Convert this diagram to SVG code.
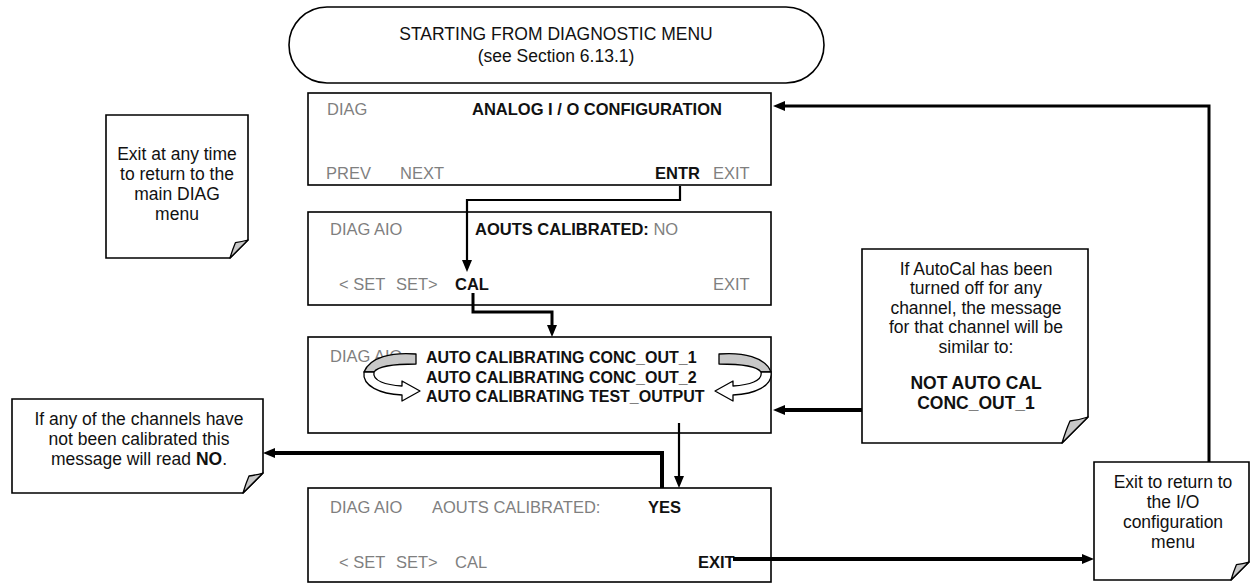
<svg xmlns="http://www.w3.org/2000/svg" width="1251" height="583" viewBox="0 0 1251 583">
<defs>
<style>
text{font-family:"Liberation Sans",Arial,sans-serif;font-size:16.5px;fill:#111}
.n text{font-size:17.5px}
.g{fill:#7f7f7f}
.b{font-weight:bold}
.a{font-size:16px}
.box{fill:#fff;stroke:#000;stroke-width:1.6}
.note{fill:#fff;stroke:#000;stroke-width:1.6;stroke-linejoin:miter}
.fold{fill:#c8c8c8;stroke:#000;stroke-width:1.3;stroke-linejoin:round}
.c{fill:none;stroke:#000;stroke-width:2.2}
.ct{fill:none;stroke:#000;stroke-width:4}
.m{text-anchor:middle}
.ca{stroke:#000;stroke-width:1.3;stroke-linejoin:round}
</style>
<marker id="ah" viewBox="0 0 12 10" refX="0" refY="5" markerWidth="12" markerHeight="10" markerUnits="userSpaceOnUse" orient="auto"><path d="M0,0 L12,5 L0,10 Z" fill="#000"/></marker>
<g id="curl">
<path class="ca" fill="#c8c8c8" d="M416,354 C392,352 370,357 364,372 L374,372 C378,366 396,364 416,364 Z"/>
<path class="ca" fill="#fff" d="M364,372 C362,386 380,394 402,395 L402,401 L420,391 L402,381 L402,386 C386,385 372,381 374,372 Z"/>
</g>
</defs>
<rect width="1251" height="583" fill="#fff"/>

<g id="start" class="n">
<rect x="289" y="7" width="535" height="76" rx="38" ry="38" class="box"/>
<text class="m" x="556" y="40">STARTING FROM DIAGNOSTIC MENU</text>
<text class="m" x="556" y="62">(see Section 6.13.1)</text>
</g>

<g id="box1">
<rect x="308" y="93" width="463" height="92" class="box"/>
<text class="g" x="327" y="115">DIAG</text>
<text class="b" x="472" y="115">ANALOG I / O CONFIGURATION</text>
<text class="g" x="326" y="179">PREV</text>
<text class="g" x="400" y="179">NEXT</text>
<text class="b" x="655" y="179">ENTR</text>
<text class="g" x="713" y="179">EXIT</text>
</g>

<g id="box2">
<rect x="308" y="212" width="463" height="93" class="box"/>
<text class="g" x="330" y="235">DIAG AIO</text>
<text class="b" x="475" y="235">AOUTS CALIBRATED:<tspan class="g" font-weight="normal"> NO</tspan></text>
<text class="g" x="339" y="290">&lt; SET</text>
<text class="g" x="396" y="290">SET&gt;</text>
<text class="b" x="455" y="290">CAL</text>
<text class="g" x="713" y="290">EXIT</text>
</g>

<g id="box3">
<rect x="308" y="337" width="463" height="96" class="box"/>
<text class="g" x="330" y="362">DIAG AIO</text>
<text class="b a" x="426" y="363">AUTO CALIBRATING CONC_OUT_1</text>
<text class="b a" x="426" y="383">AUTO CALIBRATING CONC_OUT_2</text>
<text class="b a" x="426" y="402">AUTO CALIBRATING TEST_OUTPUT</text>
<use href="#curl"/>
<use href="#curl" transform="translate(1135,0) scale(-1,1)"/>
</g>

<g id="box4">
<rect x="308" y="488" width="463" height="94" class="box"/>
<text class="g" x="330" y="513">DIAG AIO</text>
<text class="g" x="432" y="513">AOUTS CALIBRATED:</text>
<text class="b" x="648" y="513">YES</text>
<text class="g" x="339" y="568">&lt; SET</text>
<text class="g" x="396" y="568">SET&gt;</text>
<text class="g" x="455" y="568">CAL</text>
<text class="b" x="698" y="568">EXIT</text>
</g>

<g id="note1" class="n">
<path class="note" d="M106,115 H248 V240 L230,258 H106 Z"/>
<path class="fold" d="M230,258 Q232.7,249 235.4,242.7 Q241.7,241.8 248,240 Z"/>
<text class="m" x="177" y="160">Exit at any time</text>
<text class="m" x="177" y="180">to return to the</text>
<text class="m" x="177" y="200">main DIAG</text>
<text class="m" x="177" y="220">menu</text>
</g>

<g id="note2" class="n">
<path class="note" d="M12,399 H263 V473 L243,493 H12 Z"/>
<path class="fold" d="M243,493 Q246,483 249,476 Q256,475 263,473 Z"/>
<text class="m" x="139" y="425">If any of the channels have</text>
<text class="m" x="139" y="445">not been calibrated this</text>
<text class="m" x="139" y="465">message will read <tspan class="b">NO</tspan>.</text>
</g>

<g id="note3" class="n">
<path class="note" d="M862,249 H1088 V417 L1062,443 H862 Z"/>
<path class="fold" d="M1062,443 Q1066,430 1070,421 Q1079,420 1088,417 Z"/>
<text class="m" x="976" y="275">If AutoCal has been</text>
<text class="m" x="976" y="294">turned off for any</text>
<text class="m" x="976" y="314">channel, the message</text>
<text class="m" x="976" y="333">for that channel will be</text>
<text class="m" x="976" y="353">similar to:</text>
<text class="m b" x="976" y="389">NOT AUTO CAL</text>
<text class="m b" x="976" y="409">CONC_OUT_1</text>
</g>

<g id="note4" class="n">
<path class="note" d="M1094,462 H1249 V562 L1231,580 H1094 Z"/>
<path class="fold" d="M1231,580 Q1233.7,571 1236.4,564.7 Q1242.7,563.8 1249,562 Z"/>
<text class="m" x="1173" y="488">Exit to return to</text>
<text class="m" x="1173" y="508">the I/O</text>
<text class="m" x="1173" y="528">configuration</text>
<text class="m" x="1173" y="548">menu</text>
</g>

<g id="connectors">
<path class="c" d="M680,186 V200 H467 V260" marker-end="url(#ah)"/>
<path class="c" style="stroke-width:3" d="M473,293 V312 H552 V325" marker-end="url(#ah)"/>
<path class="c" d="M679,423 V476" marker-end="url(#ah)"/>
<path class="ct" d="M662,488 V453 H275" marker-end="url(#ah)"/>
<path class="ct" d="M862,410 H785" marker-end="url(#ah)"/>
<path class="ct" d="M733,559 H1082" marker-end="url(#ah)"/>
<path class="c" style="stroke-width:3" d="M1209,462 V106 H785" marker-end="url(#ah)"/>
</g>
</svg>
